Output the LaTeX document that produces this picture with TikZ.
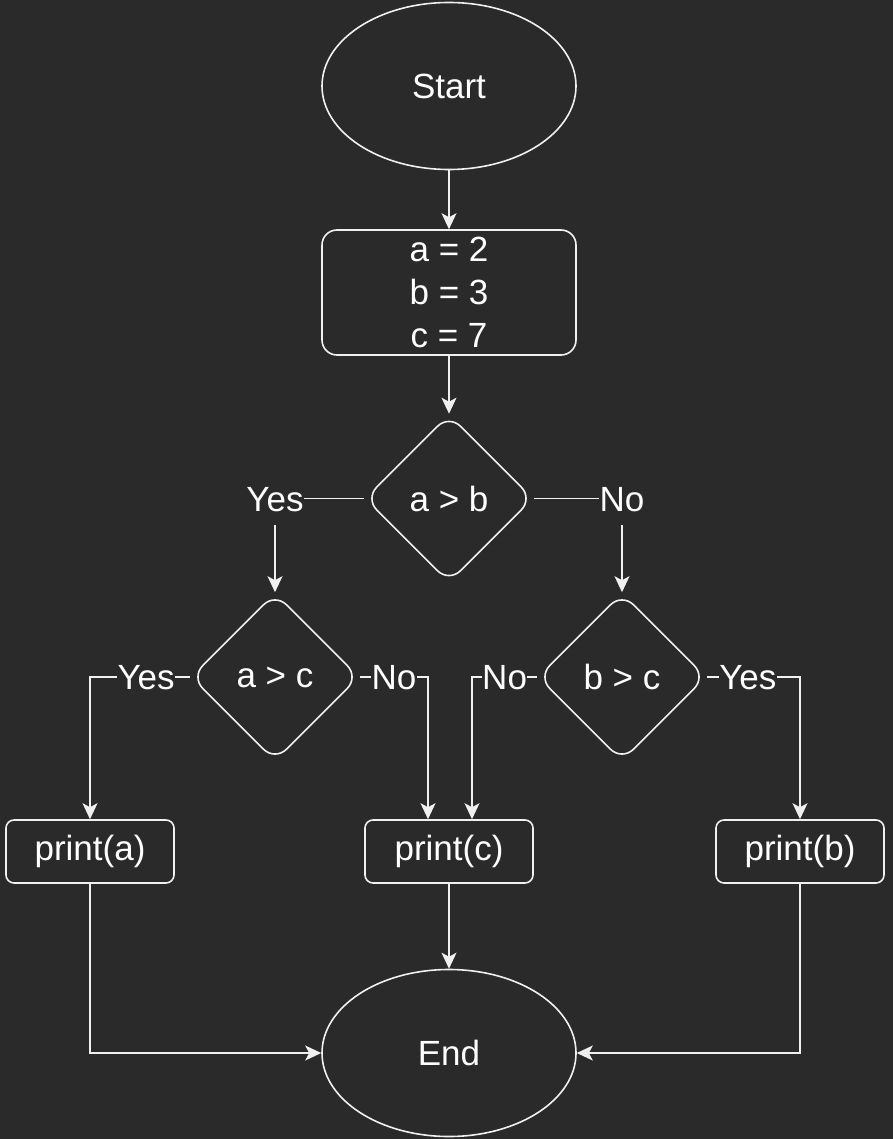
\documentclass[tikz,border=0pt]{standalone}
\usepackage{fontspec}
\setmainfont{Liberation Sans}
\usetikzlibrary{shapes.geometric,arrows.meta}

\definecolor{bg}{HTML}{2A2A2A}
\definecolor{fg}{HTML}{F0F0F0}

\begin{document}
\begin{tikzpicture}[x=1pt,y=-1pt,
  every node/.style={align=center,draw=fg,line width=1.6pt,text=white,
    font=\fontsize{35}{43}\selectfont,inner sep=0pt},
  term/.style={ellipse,minimum width=254pt,minimum height=167pt},
  stepbox/.style={rectangle,rounded corners=15pt,minimum width=254pt,minimum height=125pt},
  test/.style={diamond,rounded corners=16pt,minimum width=168pt,minimum height=168pt},
  outbox/.style={rectangle,rounded corners=8pt,minimum width=168pt,minimum height=63pt},
  lbl/.style={draw=none,fill=bg,inner xsep=0.5pt,inner ysep=14pt,text height=25pt,text depth=0pt},
  arr/.style={draw=fg,line width=1.6pt,-{Stealth[length=16pt,width=15pt,inset=4pt]}}]
\fill[bg] (0,0) rectangle (893,1139);
\useasboundingbox (0,0) rectangle (893,1139);

\node (start) [term] at (449,86) {Start};
\node (init) [stepbox] at (449,292.5) {a = 2\\b = 3\\c = 7};
\node (ab) [test] at (449,498.5) {a > b};
\node (ac) [test] at (275,677) {a > c};
\node (bc) [test] at (622,677) {b > c};
\node (pa) [outbox] at (90,851.5) {print(a)};
\node (pc) [outbox] at (449,851.5) {print(c)};
\node (pb) [outbox] at (800,851.5) {print(b)};
\node (end) [term] at (449,1053) {End};

\draw [arr] (start) -- (init);
\draw [arr] (init) -- (ab.north);
\draw [arr] (ab.west) -| node [lbl] {Yes} (ac.north);
\draw [arr] (ab.east) -| node [lbl] {No} (bc.north);
\draw [arr] (ac.west) -| node [lbl,pos=0.22] {Yes} (pa.north);
\draw [arr] (ac.east) -| node [lbl,pos=0.25] {No} ([xshift=-21pt]pc.north);
\draw [arr] (bc.west) -| node [lbl,pos=0.25] {No} ([xshift=23pt]pc.north);
\draw [arr] (bc.east) -| node [lbl,pos=0.22] {Yes} (pb.north);
\draw [arr] (pa.south) |- (end.west);
\draw [arr] (pc) -- (end);
\draw [arr] (pb.south) |- (end.east);
\end{tikzpicture}
\end{document}
